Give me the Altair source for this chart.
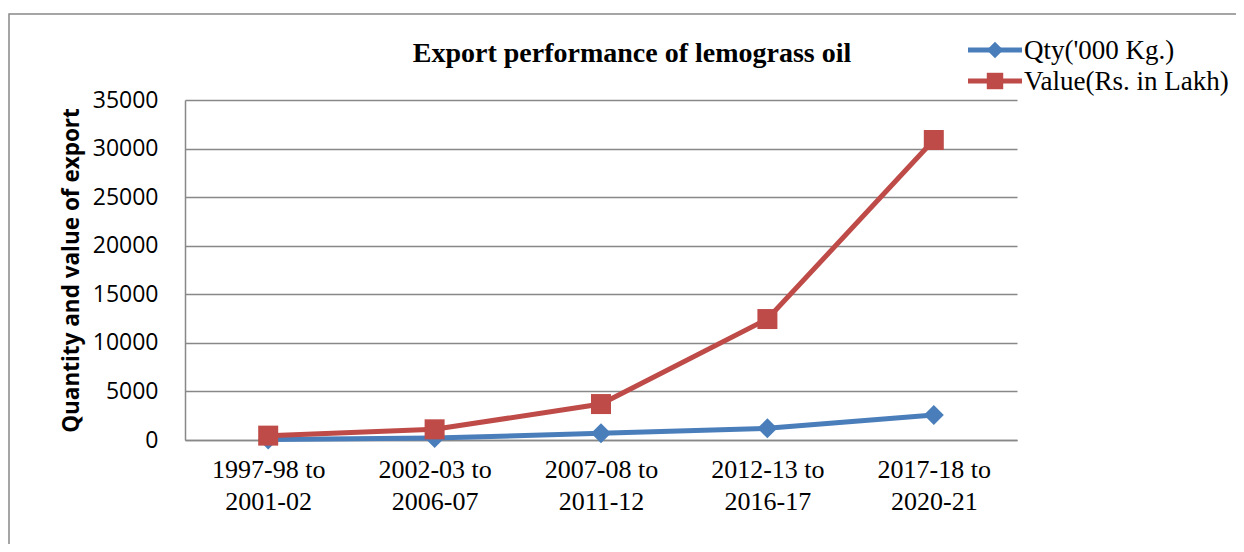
import altair as alt
import pandas as pd

periods = ["1997-98 to 2001-02", "2002-03 to 2006-07", "2007-08 to 2011-12",
           "2012-13 to 2016-17", "2017-18 to 2020-21"]
qty = [60, 200, 690, 1200, 2570]
value = [450, 1100, 3700, 12450, 30880]
series_names = ["Qty('000 Kg.)", "Value(Rs. in Lakh)"]
colors = ["#4A7EBB", "#BE4B48"]
shapes = ["diamond", "square"]
title_text = "Export performance of lemograss oil"
y_title = "Quantity and value of export"
y_ticks = [0, 5000, 10000, 15000, 20000, 25000, 30000, 35000]

df = pd.DataFrame({
    "period": periods * 2,
    "val": qty + value,
    "series": [series_names[0]] * len(periods) + [series_names[1]] * len(periods),
})

W, H = 832, 340
LEFT, TOP = 185, 100  # plot origin on page

color_scale = alt.Scale(domain=series_names, range=colors)
shape_scale = alt.Scale(domain=series_names, range=shapes)

x_enc = alt.X("period:N", sort=periods,
              scale=alt.Scale(type="point", padding=0.5),
              axis=alt.Axis(title=None, labelAngle=0, ticks=False,
                            labelFont="Liberation Serif", labelFontSize=26,
                            labelColor="#000", labelPadding=16,
                            labelLineHeight=32,
                            labelExpr="[slice(datum.label, 0, 10), slice(datum.label, 11)]",
                            domainColor="#888", domainWidth=1.5, grid=False))
y_enc = alt.Y("val:Q",
              scale=alt.Scale(domain=[0, 35000], nice=False),
              axis=alt.Axis(title=y_title, values=y_ticks, ticks=False, format="d",
                            labelFont="Open Sans", labelFontSize=23,
                            labelColor="#000", labelPadding=27,
                            titleFont="Open Sans", titleFontSize=22.5,
                            titleFontWeight="bold", titleColor="#000",
                            titleX=-114, titleY=H / 2, titleAngle=-90,
                            titleAlign="center", titleBaseline="middle",
                            domainColor="#888", domainWidth=1.5,
                            grid=True, gridColor="#888", gridWidth=1.5))

lines = alt.Chart(df).mark_line(strokeWidth=5).encode(
    x=x_enc, y=y_enc,
    color=alt.Color("series:N", scale=color_scale, legend=None),
    detail="series:N",
)
points = alt.Chart(df).mark_point(filled=True, size=400, opacity=1).encode(
    x=alt.X("period:N", sort=periods), y="val:Q",
    color=alt.Color("series:N", scale=color_scale, legend=None),
    shape=alt.Shape("series:N", scale=shape_scale, legend=None),
)

one = pd.DataFrame({"t": [title_text]})
title = alt.Chart(one).mark_text(
    font="Liberation Serif", fontSize=28, fontWeight="bold",
    align="center", baseline="alphabetic", color="#000",
).encode(text="t:N", x=alt.value(632 - LEFT), y=alt.value(62 - TOP))

frame = alt.Chart(one).mark_rect(fillOpacity=0, stroke="#888", strokeWidth=1.5).encode(
    x=alt.value(9 - LEFT), x2=alt.value(1300 - LEFT),
    y=alt.value(14 - TOP), y2=alt.value(600 - TOP),
)

legend_layers = []
legend_y = [50, 81]
for i, name in enumerate(series_names):
    ld = pd.DataFrame({"series": [name]})
    ly = legend_y[i] - TOP
    legend_layers.append(alt.Chart(ld).mark_rule(strokeWidth=5, color=colors[i]).encode(
        x=alt.value(968 - LEFT), x2=alt.value(1022 - LEFT), y=alt.value(ly)))
    legend_layers.append(alt.Chart(ld).mark_point(
        shape=shapes[i], filled=True, size=270, opacity=1, color=colors[i]).encode(
        x=alt.value(995 - LEFT), y=alt.value(ly)))
    legend_layers.append(alt.Chart(ld).mark_text(
        font="Liberation Serif", fontSize=27, align="left", baseline="middle",
        color="#000").encode(text="series:N", x=alt.value(1024 - LEFT), y=alt.value(ly + 1)))

chart = alt.layer(frame, lines, points, title, *legend_layers).properties(
    width=W, height=H,
    autosize=alt.AutoSizeParams(type="none"),
    padding={"left": LEFT - 8, "top": TOP - 8, "right": 1228 - (LEFT - 8) - W,
             "bottom": 536 - (TOP - 8) - H},
    background="white",
).configure_view(stroke=None)

chart.save("out.html", embed_options={"renderer": "svg", "actions": False})
